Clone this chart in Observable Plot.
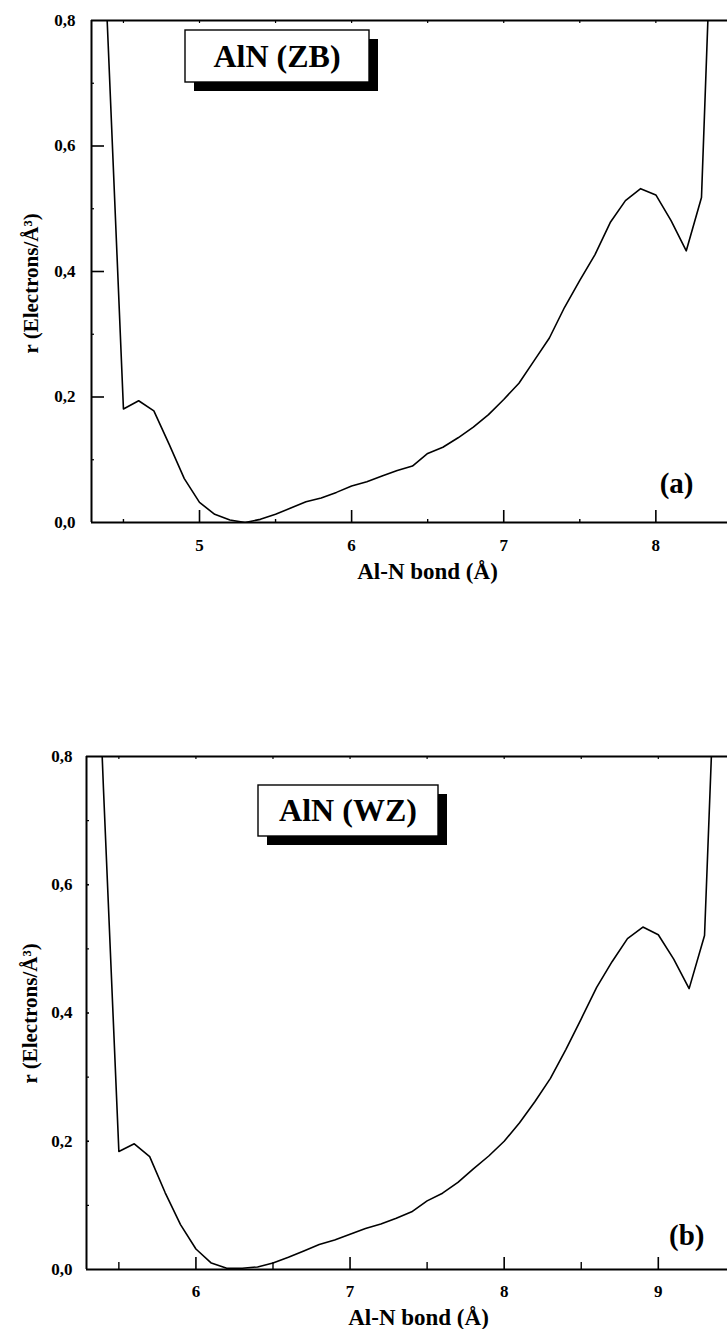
<!DOCTYPE html>
<html>
<head>
<meta charset="utf-8">
<script src="https://cdn.jsdelivr.net/npm/d3@7"></script>
<script src="https://cdn.jsdelivr.net/npm/@observablehq/plot@0.6"></script>
<style>
  html, body { margin: 0; padding: 0; background: #fff; }
  #chart { width: 727px; }
  #chart svg { display: block; }
  #chart svg text { font-family: "Liberation Serif", "Times New Roman", "DejaVu Serif", serif !important; font-weight: bold; }
</style>
</head>
<body>
<div id="chart"></div>
<script>
// Charge density along the Al–N bond, zinc-blende (a) and wurtzite (b) AlN
const bondZB = [4.3, 4.4, 4.5, 4.6, 4.7, 4.8, 4.9, 5.0, 5.1, 5.2, 5.3, 5.4, 5.5, 5.6, 5.7, 5.8, 5.9,
                6.0, 6.1, 6.2, 6.3, 6.4, 6.5, 6.6, 6.7, 6.8, 6.9, 7.0, 7.1, 7.2, 7.3, 7.4, 7.5,
                7.6, 7.7, 7.8, 7.9, 8.0, 8.1, 8.2, 8.3, 8.4];
const rhoZB  = [1.33, 0.76, 0.181, 0.194, 0.178, 0.125, 0.070, 0.032, 0.013, 0.004, 0.000, 0.005, 0.013, 0.023, 0.033, 0.039, 0.048,
                0.058, 0.065, 0.074, 0.083, 0.090, 0.110, 0.120, 0.135, 0.152, 0.172, 0.196, 0.222, 0.258, 0.294, 0.343, 0.386,
                0.427, 0.478, 0.513, 0.532, 0.522, 0.481, 0.433, 0.518, 1.19];

const bondWZ = [5.3, 5.4, 5.5, 5.6, 5.7, 5.8, 5.9, 6.0, 6.1, 6.2, 6.3, 6.4, 6.5, 6.6, 6.7, 6.8, 6.9,
                7.0, 7.1, 7.2, 7.3, 7.4, 7.5, 7.6, 7.7, 7.8, 7.9, 8.0, 8.1, 8.2, 8.3, 8.4, 8.5,
                8.6, 8.7, 8.8, 8.9, 9.0, 9.1, 9.2, 9.3, 9.4];
const rhoWZ  = [1.36, 0.75, 0.184, 0.196, 0.176, 0.120, 0.070, 0.032, 0.010, 0.002, 0.002, 0.004, 0.010, 0.019, 0.029, 0.039, 0.046,
                0.055, 0.064, 0.071, 0.080, 0.090, 0.107, 0.119, 0.136, 0.157, 0.177, 0.200, 0.229, 0.262, 0.298, 0.343, 0.391,
                0.440, 0.480, 0.516, 0.534, 0.522, 0.484, 0.438, 0.521, 1.15];

const yTicks   = [0, 0.2, 0.4, 0.6, 0.8];
const yMinor   = [0.1, 0.3, 0.5, 0.7];
const xTicksZB = [5, 6, 7, 8];
const xMinorZB = [4.5, 5.5, 6.5, 7.5];
const xTicksWZ = [6, 7, 8, 9];
const xMinorWZ = [5.5, 6.5, 7.5, 8.5];

const phases = ["AlN (ZB)", "AlN (WZ)"];
const tags   = ["(a)", "(b)"];
const xLabel = "Al-N bond (Å)";
const yLabel = "r (Electrons/Å³)";

const W = 727;
const FONT = "Liberation Serif, Times New Roman, DejaVu Serif, serif";
const commaFmt = d => d.toFixed(1).replace(".", ",");
const intFmt = d => String(d);

function panel(c) {
  const plotW = W - c.ml;
  const plotH = c.height - c.mt - c.mb;
  const pts = c.bond.map((x, i) => ({x, y: c.rho[i]}));

  // framed label with a drop shadow, positioned inside the plot frame
  const labelBox = (index, scales, values, dims) => {
    const g = d3.create("svg:g");
    const x0 = dims.marginLeft + c.box.left;
    const y0 = dims.marginTop + c.box.top;
    g.append("rect")
      .attr("x", x0 + c.box.shadow).attr("y", y0 + c.box.shadow)
      .attr("width", c.box.w).attr("height", c.box.h)
      .attr("fill", "#000");
    g.append("rect")
      .attr("x", x0).attr("y", y0)
      .attr("width", c.box.w).attr("height", c.box.h)
      .attr("fill", "#fff").attr("stroke", "#000").attr("stroke-width", 1.4);
    g.append("text")
      .attr("x", x0 + c.box.w / 2).attr("y", y0 + c.box.h / 2)
      .attr("dy", "0.34em")
      .attr("text-anchor", "middle")
      .attr("font-size", 32)
      .attr("fill", "#000")
      .text(c.phase);
    return g.node();
  };

  return Plot.plot({
    width: W,
    height: c.height,
    marginTop: c.mt,
    marginBottom: c.mb,
    marginLeft: c.ml,
    marginRight: 0,
    x: {domain: c.domain, axis: null},
    y: {domain: [0, 0.8], axis: null},
    style: {fontFamily: FONT, fontWeight: "bold", fontSize: "17px", color: "#000", background: "#fff", overflow: "visible"},
    marks: [
      Plot.line(pts, {x: "x", y: "y", stroke: "#000", strokeWidth: 1.6, clip: true}),

      // frame: bottom, top and left edges
      Plot.ruleY([0, 0.8], {stroke: "#000", strokeWidth: 2}),
      Plot.ruleX([c.domain[0]], {stroke: "#000", strokeWidth: 2}),

      // inward ticks
      Plot.tickX(c.ticks, {insetTop: plotH - 12, stroke: "#000", strokeWidth: 1.6}),
      Plot.tickX(c.minor, {insetTop: plotH - c.minorLen, stroke: "#000", strokeWidth: 1.4}),
      Plot.tickX([...c.minor, ...c.ticks], {insetBottom: plotH - 3, stroke: "#000", strokeWidth: 1.2}),
      Plot.tickY(yTicks.slice(1, -1), {insetRight: plotW - c.yMajorLen, stroke: "#000", strokeWidth: 1.6}),
      Plot.tickY(yMinor, {insetRight: plotW - 3, stroke: "#000", strokeWidth: 1.2}),

      // tick labels
      Plot.axisX(c.ticks, {anchor: "bottom", tickSize: 0, tickPadding: c.xPad, tickFormat: intFmt, label: null, fontSize: 17}),
      Plot.axisY(yTicks, {anchor: "left", tickSize: 0, tickPadding: c.yPad, tickFormat: commaFmt, label: null, fontSize: 17}),

      // axis titles
      Plot.text([xLabel], {frameAnchor: "bottom", lineAnchor: "bottom", dx: c.xLabelDx, dy: c.xLabelDy, fontSize: 23}),
      Plot.text([yLabel], {frameAnchor: "left", rotate: -90, textAnchor: "start", dx: c.yLabelDx, dy: c.yLabelDy, fontSize: 21}),

      // panel tag
      Plot.text([c.tag], {frameAnchor: "bottom-right", textAnchor: "end", lineAnchor: "bottom", dx: c.tagDx, dy: c.tagDy, fontSize: 29}),

      labelBox
    ]
  });
}

const chart = document.getElementById("chart");

chart.append(panel({
  bond: bondZB, rho: rhoZB,
  domain: [4.29, 8.471],
  ticks: xTicksZB, minor: xMinorZB, minorLen: 3, yMajorLen: 13,
  height: 620, mt: 20, mb: 98, ml: 91,
  xPad: 16.6, yPad: 16,
  xLabelDx: 18, xLabelDy: 56,
  yLabelDx: -60, yLabelDy: 82,
  tag: tags[0], tagDx: -34, tagDy: -30,
  phase: phases[0],
  box: {left: 94, top: 10, w: 184, h: 52, shadow: 9}
}));

chart.append(panel({
  bond: bondWZ, rho: rhoWZ,
  domain: [5.29, 9.449],
  ticks: xTicksWZ, minor: xMinorWZ, minorLen: 7, yMajorLen: 3,
  height: 709, mt: 136, mb: 60, ml: 86,
  xPad: 15.6, yPad: 14,
  xLabelDx: 11.5, xLabelDy: 55,
  yLabelDx: -56, yLabelDy: 70.5,
  tag: tags[1], tagDx: -23, tagDy: -25,
  phase: phases[1],
  box: {left: 172, top: 29, w: 180, h: 51, shadow: 9}
}));
</script>
</body>
</html>
